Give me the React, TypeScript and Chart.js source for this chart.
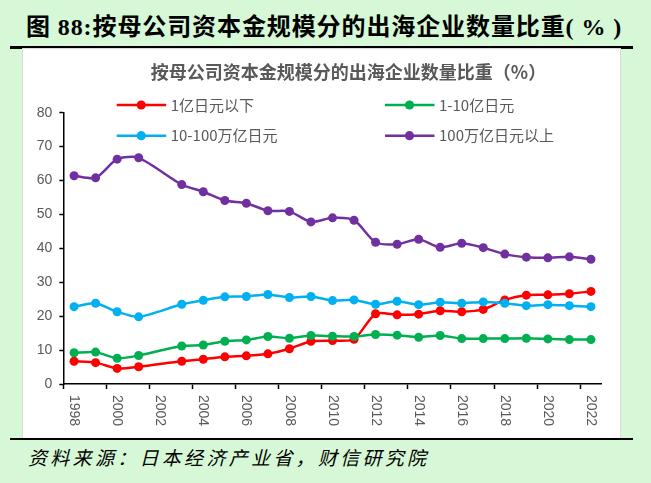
import React, { useEffect, useRef } from "react";
import { Chart, registerables } from "chart.js";

Chart.register(...registerables);

const pageTitle = "图 88:按母公司资本金规模分的出海企业数量比重( % )";
const chartTitle = "按母公司资本金规模分的出海企业数量比重（%）";
const sourceText = "资料来源：日本经济产业省，财信研究院";

const years = [
  "1998", "1999", "2000", "2001", "2002", "2003", "2004", "2005", "2006",
  "2007", "2008", "2009", "2010", "2011", "2012", "2013", "2014", "2015",
  "2016", "2017", "2018", "2019", "2020", "2021", "2022",
];

const seriesNames = ["1亿日元以下", "1-10亿日元", "10-100万亿日元", "100万亿日元以上"];
const seriesColors = ["#FF0000", "#00B050", "#00B0F0", "#7030A0"];

const below1 = [6.7, 6.3, 4.6, 5.1, null, 6.7, 7.3, 8.0, 8.3, 8.9, 10.4, 12.6, 12.8, 13.2, 20.7, 20.4, 20.6, 21.6, 21.3, 22.0, 24.8, 26.2, 26.3, 26.6, 27.3];
const from1to10 = [9.2, 9.4, 7.6, 8.4, null, 11.2, 11.5, 12.6, 13.0, 14.0, 13.5, 14.3, 14.1, 14.0, 14.6, 14.4, 13.8, 14.3, 13.4, 13.4, 13.4, 13.5, 13.3, 13.1, 13.1];
const from10to100 = [22.8, 23.8, 21.3, 19.8, null, 23.5, 24.7, 25.7, 25.8, 26.4, 25.5, 25.8, 24.6, 24.8, 23.5, 24.4, 23.4, 24.1, 23.8, 24.2, 23.8, 23.1, 23.4, 23.1, 22.8];
const above100 = [61.4, 60.8, 66.3, 66.7, null, 58.8, 56.7, 54.1, 53.3, 51.1, 50.9, 47.8, 49.0, 48.3, 41.8, 41.2, 42.7, 40.3, 41.5, 40.2, 38.3, 37.4, 37.2, 37.5, 36.8];

const seriesValues = [below1, from1to10, from10to100, above100];

const yTicks = { min: 0, max: 80, step: 10 };

const GREY = "#595959";

const customDraw = {
  id: "customDraw",
  afterDraw(chart: any) {
    const { ctx, chartArea, scales } = chart;
    const xs = scales.x;
    ctx.save();
    // chart title
    ctx.font = 'bold 18px "Noto Sans CJK SC"';
    ctx.fillStyle = GREY;
    ctx.textAlign = "center";
    ctx.textBaseline = "middle";
    ctx.fillText(chartTitle, 325.5, 23.5);

    // x labels, rotated clockwise
    ctx.font = '14px "Liberation Sans"';
    ctx.textAlign = "left";
    ctx.textBaseline = "middle";
    years.forEach((yr, i) => {
      if (i % 2 !== 0) return;
      const px = xs.getPixelForValue(i);
      ctx.save();
      ctx.translate(px, chartArea.bottom + 11);
      ctx.rotate(Math.PI / 2);
      ctx.fillText(yr, 0, 0);
      ctx.restore();
    });

    // legend
    const cols = [93.7, 362];
    const rows = [56, 86.7];
    ctx.font = '15px "Noto Sans CJK SC"';
    ctx.textAlign = "left";
    ctx.textBaseline = "middle";
    seriesNames.forEach((name, i) => {
      const cx = cols[i % 2];
      const cy = rows[Math.floor(i / 2)];
      ctx.strokeStyle = seriesColors[i];
      ctx.lineWidth = 2.5;
      ctx.beginPath();
      ctx.moveTo(cx, cy);
      ctx.lineTo(cx + 49.5, cy);
      ctx.stroke();
      ctx.fillStyle = seriesColors[i];
      ctx.beginPath();
      ctx.arc(cx + 24.5, cy, 4.6, 0, Math.PI * 2);
      ctx.fill();
      ctx.fillStyle = GREY;
      ctx.fillText(name, cx + 54, cy);
    });
    ctx.restore();
  },
};

function LineChart() {
  const ref = useRef<HTMLCanvasElement | null>(null);
  useEffect(() => {
    if (!ref.current) return;
    const chart = new Chart(ref.current, {
      type: "line",
      data: {
        labels: years,
        datasets: seriesValues.map((vals, i) => ({
          label: seriesNames[i],
          data: vals,
          borderColor: seriesColors[i],
          backgroundColor: seriesColors[i],
          pointBackgroundColor: seriesColors[i],
          pointBorderColor: seriesColors[i],
          pointRadius: 4.5,
          pointBorderWidth: 0,
          borderWidth: 2.5,
          tension: 0.25,
          spanGaps: true,
          order: 4 - i,
        })),
      },
      options: {
        animation: false,
        responsive: false,
        maintainAspectRatio: false,
        layout: { padding: { left: 0, right: 18.3, top: 63.7, bottom: 0 } },
        plugins: {
          legend: { display: false },
          title: { display: false },
          tooltip: { enabled: false },
        },
        scales: {
          x: {
            type: "category",
            offset: true,
            ticks: { display: false },
            grid: {
              offset: true,
              drawOnChartArea: false,
              drawTicks: true,
              tickLength: 5,
              tickWidth: 1.5,
              tickColor: (c: any) => (typeof c.index === "number" && c.index % 2 === 0 ? "#000" : "rgba(0,0,0,0)"),
            },
            border: { display: true, color: "#000", width: 1.5 },
            afterFit: (s: any) => {
              s.height = 54;
            },
          },
          y: {
            min: yTicks.min,
            max: yTicks.max,
            ticks: {
              stepSize: yTicks.step,
              color: GREY,
              padding: 7,
              font: { family: "Liberation Sans", size: 14 },
            },
            grid: {
              drawOnChartArea: false,
              drawTicks: true,
              tickLength: 4,
              tickWidth: 1.5,
              tickColor: "#000",
            },
            border: { display: true, color: "#000", width: 1.5 },
            afterFit: (s: any) => {
              s.width = 40.3;
            },
          },
        },
      },
      plugins: [customDraw],
    });
    return () => chart.destroy();
  }, []);
  return <canvas ref={ref} width={597} height={389} style={{ display: "block", width: 597, height: 389 }} />;
}

export default function App() {
  return (
    <div
      style={{
        position: "absolute",
        left: 0,
        top: 0,
        width: 651,
        height: 483,
        background: "#d6f8d6",
        overflow: "hidden",
      }}
    >
      <div
        style={{
          position: "absolute",
          left: 26,
          top: 12,
          whiteSpace: "nowrap",
          fontFamily: '"Liberation Serif", "Noto Sans CJK SC", serif',
          fontWeight: "bold",
          fontSize: 24,
          letterSpacing: 0.9,
          lineHeight: "30px",
          color: "#000",
        }}
      >
        {pageTitle}
      </div>
      <div style={{ position: "absolute", left: 10, top: 46, width: 623, height: 3, background: "#000" }} />
      <div
        style={{
          position: "absolute",
          left: 22,
          top: 48,
          width: 597,
          height: 389,
          border: "1px solid #d9d9d9",
          background: "#fff",
        }}
      >
        <LineChart />
      </div>
      <div style={{ position: "absolute", left: 10, top: 438, width: 623, height: 2, background: "#000" }} />
      <div
        style={{
          position: "absolute",
          left: 28,
          top: 445,
          whiteSpace: "nowrap",
          fontFamily: '"Noto Sans CJK SC", sans-serif',
          fontStyle: "italic",
          fontSize: 19,
          letterSpacing: 3.3,
          lineHeight: "24px",
          color: "#000",
        }}
      >
        {sourceText}
      </div>
    </div>
  );
}
